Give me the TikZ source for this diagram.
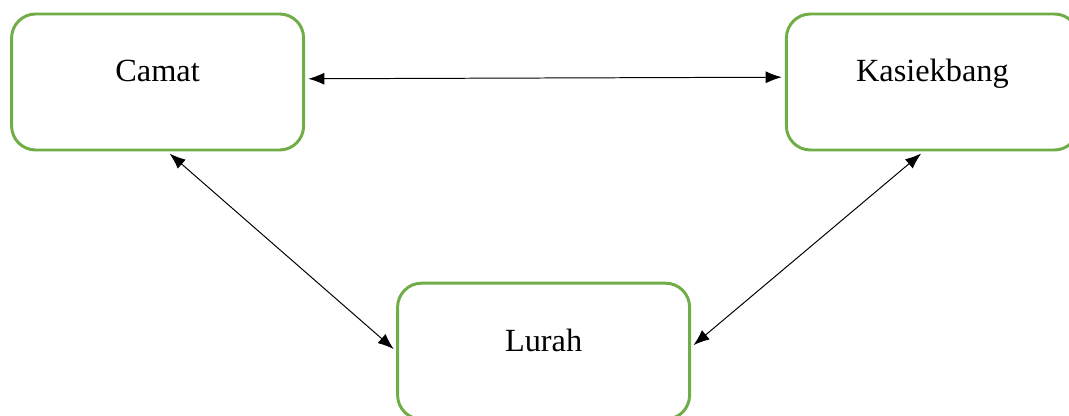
\documentclass[tikz,border=0pt]{standalone}
\usepackage{fontspec}
\setmainfont{Liberation Serif}
\usetikzlibrary{arrows.meta}
\definecolor{hijau}{HTML}{70AD47}
\tikzset{
	kotak/.style = { draw=hijau, line width=2.1pt, rounded corners=0.6cm, minimum width=7.3cm, minimum height=3.4cm, text height=0.3cm, text depth=0.3cm, inner sep=0pt, font=\fontsize{23}{27}\selectfont },
	panah/.style = { {Latex[length=0.4cm,width=0.3cm]}-{Latex[length=0.4cm,width=0.3cm]}, line width=0.7pt, shorten <=0.08cm, shorten >=0.08cm }
}
\begin{document}
\begin{tikzpicture}
	\useasboundingbox ( 0.00, 0.00 ) rectangle ( 26.725, 10.40 );

	% kotak
	\node [kotak] (camat) at (  3.94, 8.35 ) {Camat};
	\node [kotak] (kasie) at ( 23.31, 8.35 ) {Kasiekbang};
	\node [kotak] (lurah) at ( 13.59, 1.62 ) {Lurah};

	% panah
	\draw [panah] ([yshift=0.08cm]camat.east) -- ([yshift=0.12cm]kasie.west);
	\draw [panah] ([xshift=0.24cm]camat.south) -- (lurah.west);
	\draw [panah] ([yshift=0.1cm]lurah.east) -- ([xshift=-0.22cm]kasie.south);
\end{tikzpicture}
\end{document}
